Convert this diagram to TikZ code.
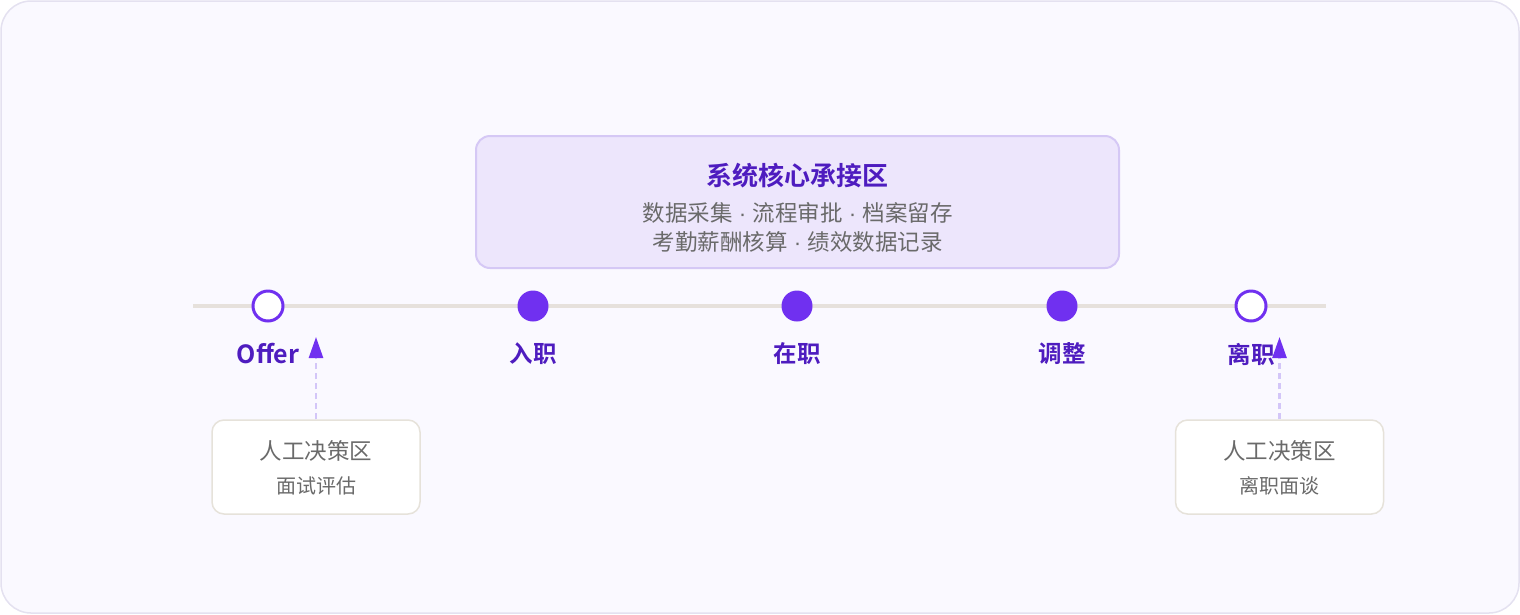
\documentclass[tikz,border=0pt]{standalone}
\usepackage{fontspec}
\setmainfont{Noto Sans CJK SC}
\newfontfamily\cjkb{Noto Sans CJK SC Bold}
\newfontfamily\latn{Liberation Sans}
\newcommand{\sepdot}{{\latn\ ·\ }}
\usetikzlibrary{arrows.meta}
\definecolor{bgc}{HTML}{FAF9FF}
\definecolor{bgline}{HTML}{E4E1F0}
\definecolor{tline}{HTML}{E6E1DC}
\definecolor{vio}{HTML}{7030F0}
\definecolor{dvio}{HTML}{4E1CBF}
\definecolor{boxf}{HTML}{EDE6FC}
\definecolor{boxd}{HTML}{D5C8F5}
\definecolor{txtg}{HTML}{6A6A6A}
\definecolor{hbord}{HTML}{E6E2DA}
\definecolor{dash}{HTML}{D3C6F8}
\tikzset{
  hollow/.style={circle,draw=vio,line width=3pt,fill=white,minimum size=30pt,inner sep=0pt},
  solidpt/.style={circle,fill=vio,minimum size=31pt,inner sep=0pt},
  stage/.style={font=\cjkb\fontsize{23.5}{28}\selectfont,text=dvio,inner sep=0pt},
  humanbox/.style={draw=hbord,line width=1.5pt,fill=white,rounded corners=12pt,minimum width=208pt,minimum height=94pt,inner sep=0pt},
  upar/.style={draw=dash,line width=2.5pt,dash pattern=on 6pt off 4pt,-{Triangle[width=14pt,length=21pt,color=vio]}}
}
\begin{document}
\begin{tikzpicture}[x=1pt,y=-1pt]
\useasboundingbox (0,0) rectangle (1520,614);
\draw[draw=bgline,fill=bgc,line width=1.5pt,rounded corners=30pt] (1,1) rectangle (1519,613);
% top box
\node[draw=boxd,fill=boxf,line width=2pt,rounded corners=14pt,minimum width=643pt,minimum height=132pt,inner sep=0pt] (core) at (797.5,202) {};
\node[font=\cjkb\fontsize{26}{30}\selectfont,text=dvio] (coret) at (797.5,176) {系统核心承接区};
\node[font=\fontsize{22.5}{27}\selectfont,text=txtg] (corel1) at (797.5,213) {数据采集\sepdot 流程审批\sepdot 档案留存};
\node[font=\fontsize{22.5}{27}\selectfont,text=txtg] (corel2) at (797.5,242) {考勤薪酬核算\sepdot 绩效数据记录};
% timeline
\coordinate (tl) at (193,306);
\coordinate (tr) at (1326,306);
\draw[tline,line width=4pt] (tl) -- (tr);
\node[hollow] (p1) at (268,306) {};
\node[solidpt] (p2) at (533,306) {};
\node[solidpt] (p3) at (797,306) {};
\node[solidpt] (p4) at (1062,306) {};
\node[hollow] (p5) at (1251,306) {};
\node[stage,font=\cjkb\fontsize{25}{28}\selectfont] (l1) at (268,354) {Offer};
\node[stage] (l2) at (533,354) {入职};
\node[stage] (l3) at (797,354) {在职};
\node[stage] (l4) at (1062,354) {调整};
\node[stage] (l5) at (1251,354) {离职};
% human boxes
\node[humanbox] (h1) at (316,467) {};
\node[font=\fontsize{22.5}{26}\selectfont,text=txtg] (h1a) at (316,451) {人工决策区};
\node[font=\fontsize{20}{24}\selectfont,text=txtg] (h1b) at (316,486) {面试评估};
\node[humanbox] (h2) at (1279.5,467) {};
\node[font=\fontsize{22.5}{26}\selectfont,text=txtg] (h2a) at (1279.5,451) {人工决策区};
\node[font=\fontsize{20}{24}\selectfont,text=txtg] (h2b) at (1279.5,486) {离职面谈};
\coordinate (a1) at (316,337);
\coordinate (a2) at (1279.5,337);
\draw[upar] (h1.north) -- (a1);
\draw[upar] (h2.north) -- (a2);
\end{tikzpicture}
\end{document}
